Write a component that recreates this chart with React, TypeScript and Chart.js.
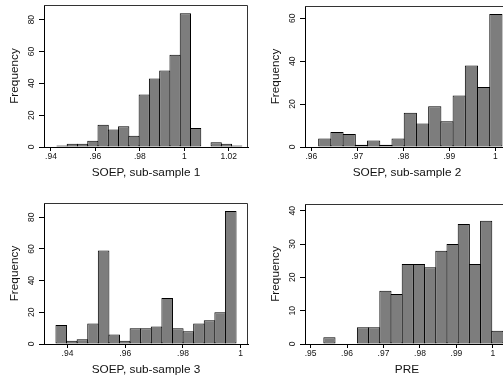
import React, { useEffect, useRef } from "react";
import { Chart, registerables } from "chart.js";

Chart.register(...registerables);

const FONT = "'Liberation Sans', Arial, Helvetica, sans-serif";
const BAR_FILL = "#7d7d7d";
const INK = "#111";

// SOEP, sub-sample 1
const s1BinStart = 0.94266;
const s1BinWidth = 0.004627;
const s1Counts = [1, 2, 2, 4, 14, 11, 13, 7, 33, 43, 48, 58, 84, 12, 0, 3, 2, 1];
const s1XTicks = [0.94, 0.96, 0.98, 1, 1.02];
const s1YTicks = [0, 20, 40, 60, 80];

// SOEP, sub-sample 2
const s2BinStart = 0.9616;
const s2BinWidth = 0.002657;
const s2Counts = [4, 7, 6, 1, 3, 1, 4, 16, 11, 19, 12, 24, 38, 28, 62];
const s2XTicks = [0.96, 0.97, 0.98, 0.99, 1];
const s2YTicks = [0, 20, 40, 60];

// SOEP, sub-sample 3
const s3BinStart = 0.936;
const s3BinWidth = 0.00367;
const s3Counts = [12, 2, 3, 13, 59, 6, 2, 10, 10, 11, 29, 10, 8, 13, 15, 20, 84];
const s3XTicks = [0.94, 0.96, 0.98, 1];
const s3YTicks = [0, 20, 40, 60, 80];

// PRE
const preBinStart = 0.95364;
const preBinWidth = 0.00307;
const preCounts = [2, 0, 0, 5, 5, 16, 15, 24, 24, 23, 28, 30, 36, 24, 37, 4];
const preXTicks = [0.95, 0.96, 0.97, 0.98, 0.99, 1];
const preYTicks = [0, 10, 20, 30, 40];

type Panel = {
  id: string;
  title: string;
  binStart: number;
  binWidth: number;
  counts: number[];
  xTicks: number[];
  yTicks: number[];
  xMin: number;
  xMax: number;
  yMax: number;
  // canvas box on the page
  left: number;
  top: number;
  w: number;
  h: number;
  // plot area inside the canvas
  area: { l: number; t: number; r: number; b: number };
};

const panels: Panel[] = [
  {
    id: "p1",
    title: "SOEP, sub-sample 1",
    binStart: s1BinStart,
    binWidth: s1BinWidth,
    counts: s1Counts,
    xTicks: s1XTicks,
    yTicks: s1YTicks,
    xMin: 0.93685,
    xMax: 1.0287,
    yMax: 89.2,
    left: 0,
    top: 0,
    w: 252,
    h: 190,
    area: { l: 44, t: 5, r: 248, b: 147 },
  },
  {
    id: "p2",
    title: "SOEP, sub-sample 2",
    binStart: s2BinStart,
    binWidth: s2BinWidth,
    counts: s2Counts,
    xTicks: s2XTicks,
    yTicks: s2YTicks,
    xMin: 0.95863,
    xMax: 1.00298,
    yMax: 65.7,
    left: 252,
    top: 0,
    w: 262,
    h: 190,
    area: { l: 53, t: 6, r: 257, b: 147 },
  },
  {
    id: "p3",
    title: "SOEP, sub-sample 3",
    binStart: s3BinStart,
    binWidth: s3BinWidth,
    counts: s3Counts,
    xTicks: s3XTicks,
    yTicks: s3YTicks,
    xMin: 0.93186,
    xMax: 1.00253,
    yMax: 89,
    left: 0,
    top: 190,
    w: 252,
    h: 189,
    area: { l: 44, t: 13, r: 248, b: 154 },
  },
  {
    id: "p4",
    title: "PRE",
    binStart: preBinStart,
    binWidth: preBinWidth,
    counts: preCounts,
    xTicks: preXTicks,
    yTicks: preYTicks,
    xMin: 0.94848,
    xMax: 1.00441,
    yMax: 42,
    left: 252,
    top: 190,
    w: 262,
    h: 189,
    area: { l: 53, t: 14, r: 257, b: 154 },
  },
];

const fmtTick = (v: number) => {
  const s = String(Math.round(v * 1000) / 1000);
  return s.startsWith("0.") ? s.slice(1) : s;
};

// Top and right edges of the plot region.
const frame = {
  id: "frame",
  afterDraw(chart: any) {
    const { ctx, chartArea } = chart;
    const { left, top, right, bottom } = chartArea;
    ctx.save();
    ctx.strokeStyle = "#333";
    ctx.lineWidth = 1;
    ctx.beginPath();
    ctx.moveTo(left, top + 0.5);
    ctx.lineTo(right - 0.5, top + 0.5);
    ctx.lineTo(right - 0.5, bottom);
    ctx.stroke();
    ctx.restore();
  },
};

// Vertical (rotated) value labels on the y axis.
const yTickLabels = {
  id: "yTickLabels",
  afterDraw(chart: any) {
    const { ctx, chartArea } = chart;
    const scale = chart.scales.y;
    const x = chartArea.left - 12.5;
    ctx.save();
    ctx.font = `8.5px ${FONT}`;
    ctx.fillStyle = INK;
    ctx.textAlign = "center";
    ctx.textBaseline = "middle";
    scale.ticks.forEach((t: any) => {
      const y = scale.getPixelForValue(t.value);
      ctx.save();
      ctx.translate(x, y);
      ctx.rotate(-Math.PI / 2);
      ctx.fillText(String(t.value), 0, 0);
      ctx.restore();
    });
    ctx.restore();
  },
};

function HistPanel({ p }: { p: Panel }) {
  const ref = useRef<HTMLCanvasElement | null>(null);

  useEffect(() => {
    if (!ref.current) return;
    const binPx = (p.binWidth * (p.area.r - p.area.l)) / (p.xMax - p.xMin);
    const data = p.counts.map((c, i) => ({
      x: p.binStart + p.binWidth * (i + 0.5),
      y: c,
    }));
    const titleSize = 11.8;
    const titleHalf = (titleSize * 1.2) / 2;
    const chart = new Chart(ref.current, {
      type: "bar",
      data: {
        datasets: [
          {
            data,
            backgroundColor: BAR_FILL,
            borderColor: "#000",
            borderWidth: 1,
            borderSkipped: false,
            barPercentage: 1 + 1 / binPx,
            categoryPercentage: 1,
          } as any,
        ],
      },
      options: {
        animation: false,
        responsive: false,
        events: [],
        layout: {
          padding: { left: 0, top: p.area.t, right: p.w - p.area.r, bottom: 0 },
        },
        plugins: {
          legend: { display: false },
          tooltip: { enabled: false },
        },
        scales: {
          x: {
            type: "linear",
            min: p.xMin,
            max: p.xMax,
            offset: false,
            afterBuildTicks: (s: any) => {
              s.ticks = p.xTicks.map((v) => ({ value: v }));
            },
            afterFit: (s: any) => {
              s.height = p.h - p.area.b;
            },
            ticks: {
              autoSkip: false,
              maxRotation: 0,
              minRotation: 0,
              padding: 1,
              color: INK,
              font: { family: FONT, size: 8.5 },
              callback: (v: any) => fmtTick(Number(v)),
            },
            grid: {
              drawOnChartArea: false,
              drawTicks: true,
              tickLength: 4,
              color: "#000",
              offset: false,
            },
            border: { display: true, color: "#000", width: 1 },
            title: {
              display: true,
              text: p.title,
              color: INK,
              font: { family: FONT, size: titleSize },
              padding: { top: 0, bottom: p.h - (p.area.b + 26) - titleHalf },
            },
          },
          y: {
            type: "linear",
            min: 0,
            max: p.yMax,
            afterBuildTicks: (s: any) => {
              s.ticks = p.yTicks.map((v) => ({ value: v }));
            },
            afterFit: (s: any) => {
              s.width = p.area.l;
            },
            ticks: { display: false },
            grid: {
              drawOnChartArea: false,
              drawTicks: true,
              tickLength: 5,
              color: "#000",
            },
            border: { display: true, color: "#000", width: 1 },
            title: {
              display: true,
              text: "Frequency",
              color: INK,
              font: { family: FONT, size: titleSize },
              padding: { top: p.area.l - 29.5 - titleHalf, bottom: 0 },
            },
          },
        },
      } as any,
      plugins: [frame, yTickLabels],
    });
    return () => chart.destroy();
  }, [p]);

  return (
    <canvas
      ref={ref}
      width={p.w}
      height={p.h}
      style={{
        position: "absolute",
        left: p.left,
        top: p.top,
        width: p.w,
        height: p.h,
      }}
    />
  );
}

export default function App() {
  return (
    <div
      style={{
        position: "absolute",
        left: 0,
        top: 0,
        width: 503,
        height: 379,
        overflow: "hidden",
        background: "#fff",
      }}
    >
      {panels.map((p) => (
        <HistPanel key={p.id} p={p} />
      ))}
    </div>
  );
}
